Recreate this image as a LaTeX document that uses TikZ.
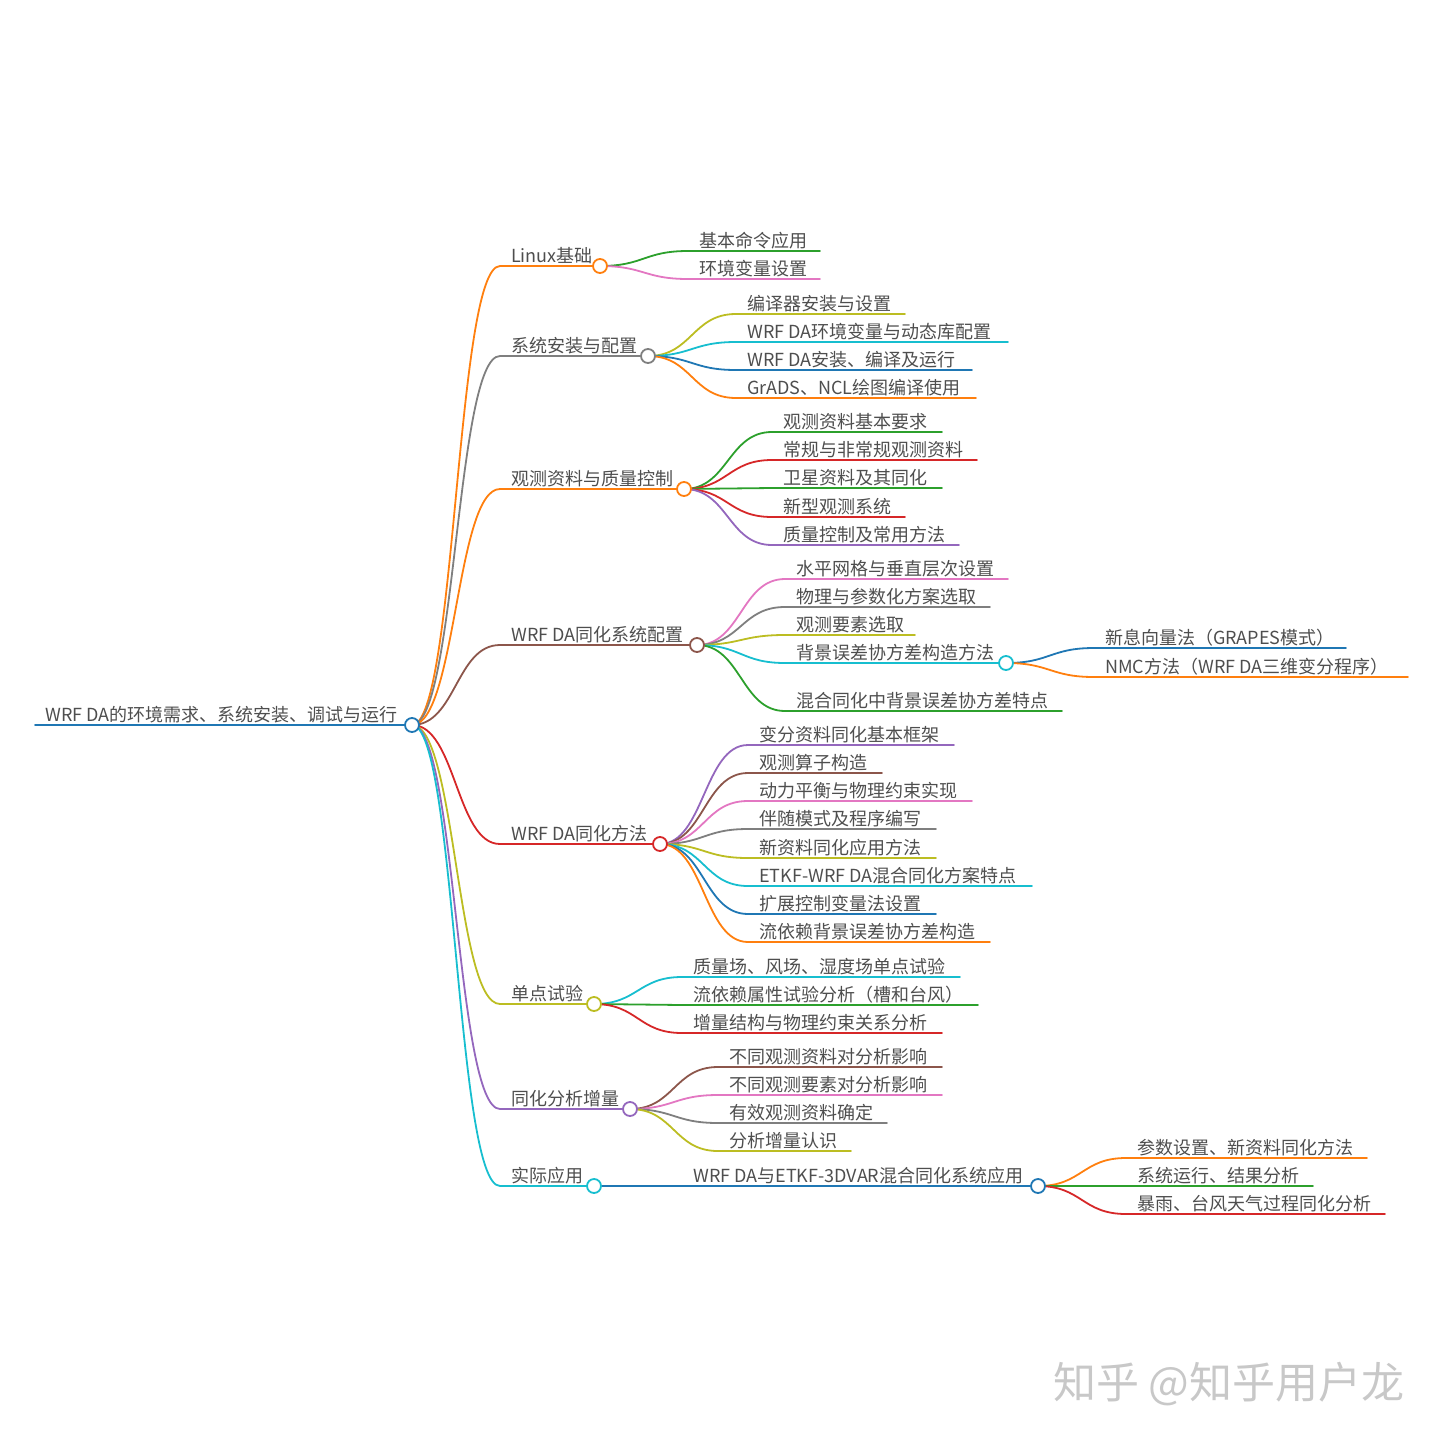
\documentclass[tikz,border=0pt]{standalone}
\usepackage{fontspec}
\setmainfont{Noto Sans CJK SC}
\definecolor{mmblue}{RGB}{31,119,180}
\definecolor{mmorange}{RGB}{255,127,14}
\definecolor{mmgreen}{RGB}{44,160,44}
\definecolor{mmred}{RGB}{214,39,40}
\definecolor{mmpurple}{RGB}{148,103,189}
\definecolor{mmbrown}{RGB}{140,86,75}
\definecolor{mmpink}{RGB}{227,119,194}
\definecolor{mmgray}{RGB}{127,127,127}
\definecolor{mmolive}{RGB}{188,189,34}
\definecolor{mmcyan}{RGB}{23,190,207}
\definecolor{mmtext}{RGB}{78,78,78}
\definecolor{mmwater}{RGB}{200,200,200}
\pgfdeclarelayer{fg}
\pgfsetlayers{main,fg}
\tikzset{
	link/.style={line width=1.8, line cap=round},
	topic/.style={anchor=base west, inner sep=0, text=mmtext, font=\fontsize{18}{22}\selectfont},
	dot/.style={circle, draw=#1, fill=white, line width=1.8, minimum size=14, inner sep=0},
	wmtext/.style={anchor=west, inner sep=0, text=mmwater, font=\fontsize{43}{48}\selectfont}
}
% children of a parent circle: label/y/line end/colour
\newcommand{\mmkids}[3]{
	\foreach \lbl/\yy/\xe/\col [count=\i] in {#3}{
		\coordinate (#1-\i) at (#2,\yy);
		\draw[link, \col] (#1-c.center) .. controls +(44,0) and +(-44,0) .. (#1-\i) -- (\xe,\yy);
		\node[topic] (#1-\i-t) at (#2+11,\yy-4) {\lbl};
	}
}
\begin{document}
\begin{tikzpicture}[x=1pt, y=-1pt]
\useasboundingbox (0,0) rectangle (1440,1440);

% root
\begin{pgfonlayer}{fg}
	\node[dot=mmblue] (root-c) at (412,725) {};
\end{pgfonlayer}
\coordinate (root) at (35,725);
\draw[link, mmblue] (root) -- (root-c);
\node[topic] (root-t) at (45,721) {WRF DA的环境需求、系统安装、调试与运行};

% main branches
\foreach \n/\lbl/\yy/\xe/\col in {lin/Linux基础/266/593/mmorange, sys/系统安装与配置/356/641/mmgray, obs/观测资料与质量控制/489/677/mmorange, cfg/WRF DA同化系统配置/645/690/mmbrown, mth/WRF DA同化方法/844/653/mmred, spt/单点试验/1004/587/mmolive, inc/同化分析增量/1109/623/mmpurple, app/实际应用/1186/587/mmcyan}{
	\coordinate (\n) at (500,\yy);
	\draw[link, \col] (root-c.center) .. controls +(44,0) and +(-44,0) .. (\n) -- (\xe,\yy);
	\node[topic] (\n-t) at (511,\yy-4) {\lbl};
	\begin{pgfonlayer}{fg}
		\node[dot=\col] (\n-c) at (\xe+7,\yy) {};
	\end{pgfonlayer}
}

\mmkids{lin}{688}{基本命令应用/251/820/mmgreen, 环境变量设置/279/820/mmpink}
\mmkids{sys}{736}{编译器安装与设置/314/905/mmolive, WRF DA环境变量与动态库配置/342/1008/mmcyan, WRF DA安装、编译及运行/370/972/mmblue, GrADS、NCL绘图编译使用/398/976/mmorange}
\mmkids{obs}{772}{观测资料基本要求/432/942/mmgreen, 常规与非常规观测资料/460/977/mmred, 卫星资料及其同化/488/942/mmgreen, 新型观测系统/517/905/mmred, 质量控制及常用方法/545/959/mmpurple}
\mmkids{cfg}{785}{水平网格与垂直层次设置/579/1008/mmpink, 物理与参数化方案选取/607/990/mmgray, 观测要素选取/635/915/mmolive, 背景误差协方差构造方法/663/999/mmcyan, 混合同化中背景误差协方差特点/711/1062/mmgreen}
\begin{pgfonlayer}{fg}
	\node[dot=mmcyan] (cfg-4-c) at (1006,663) {};
\end{pgfonlayer}
\mmkids{cfg-4}{1094}{新息向量法（GRAPES模式）/648/1346/mmblue, NMC方法（WRF DA三维变分程序）/677/1408/mmorange}
\mmkids{mth}{748}{变分资料同化基本框架/745/954/mmpurple, 观测算子构造/773/882/mmbrown, 动力平衡与物理约束实现/801/972/mmpink, 伴随模式及程序编写/829/936/mmgray, 新资料同化应用方法/858/936/mmolive, ETKF-WRF DA混合同化方案特点/886/1032/mmcyan, 扩展控制变量法设置/914/936/mmblue, 流依赖背景误差协方差构造/942/990/mmorange}
\mmkids{spt}{682}{质量场、风场、湿度场单点试验/977/960/mmcyan, 流依赖属性试验分析（槽和台风）/1005/978/mmgreen, 增量结构与物理约束关系分析/1033/942/mmred}
\mmkids{inc}{718}{不同观测资料对分析影响/1067/942/mmbrown, 不同观测要素对分析影响/1095/942/mmpink, 有效观测资料确定/1123/887/mmgray, 分析增量认识/1151/851/mmolive}
\mmkids{app}{682}{WRF DA与ETKF-3DVAR混合同化系统应用/1186/1031/mmblue}
\begin{pgfonlayer}{fg}
	\node[dot=mmblue] (app-1-c) at (1038,1186) {};
\end{pgfonlayer}
\mmkids{app-1}{1126}{参数设置、新资料同化方法/1158/1367/mmorange, 系统运行、结果分析/1186/1313/mmgreen, 暴雨、台风天气过程同化分析/1214/1385/mmred}

% watermark
\node[wmtext] (wm) at (1053,1384) {知乎 @知乎用户龙};
\end{tikzpicture}
\end{document}
